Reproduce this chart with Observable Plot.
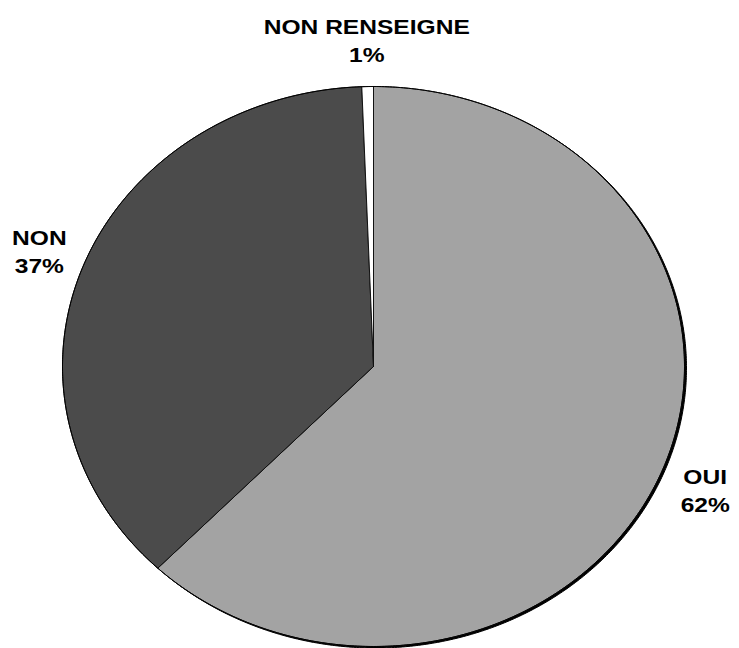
<!DOCTYPE html>
<html>
<head>
<meta charset="utf-8">
<script src="https://cdn.jsdelivr.net/npm/d3@7"></script>
<script src="https://cdn.jsdelivr.net/npm/@observablehq/plot@0.6"></script>
<style>
  html, body { margin: 0; padding: 0; background: #fff; }
  #chart svg { display: block; }
</style>
</head>
<body>
<div id="chart"></div>
<script>
const categories = ["OUI", "NON", "NON RENSEIGNE"];
const values = [62.2, 37.2, 0.6];
const percentLabels = ["62%", "37%", "1%"];

const palette = ["#a3a3a3", "#4b4b4b", "#ffffff"];

const arcs = d3.pie().sort(null).value(d => d)(values);

// slice polygons built from the pie angles
const slicePts = [];
arcs.forEach((a, i) => {
  const key = categories[i];
  slicePts.push({key, x: 0, y: 0});
  const n = Math.max(2, Math.ceil((a.endAngle - a.startAngle) / (Math.PI / 360)));
  for (let j = 0; j <= n; j++) {
    const t = a.startAngle + (a.endAngle - a.startAngle) * j / n;
    slicePts.push({key, x: Math.sin(t), y: Math.cos(t)});
  }
  slicePts.push({key, x: 0, y: 0});
});

const rim = d3.range(0, 721).map(j => {
  const t = j / 720 * 2 * Math.PI;
  return {x: Math.sin(t), y: Math.cos(t)};
});

const kx = 1.15, ky = 1.17;
const labelData = arcs.map((a, i) => {
  const m = (a.startAngle + a.endAngle) / 2;
  return {x: kx * Math.sin(m), y: ky * Math.cos(m), text: categories[i] + "\n" + percentLabels[i]};
});

const plot = Plot.plot({
  width: 739,
  height: 648,
  margin: 0,
  x: {domain: [-1, 1], range: [62, 684], axis: null},
  y: {domain: [-1, 1], range: [646, 86], axis: null},
  color: {domain: categories, range: palette},
  style: {background: "#fff", overflow: "visible"},
  marks: [
    Plot.line(rim, {x: "x", y: "y", fill: "#000", stroke: "#000", strokeWidth: 1, dx: 2, dy: 1.5}),
    Plot.line(slicePts, {x: "x", y: "y", z: "key", fill: "key", stroke: "#111", strokeWidth: 1, strokeLinejoin: "round"}),
    Plot.line(rim, {x: "x", y: "y", stroke: "#000", strokeWidth: 1}),
    Plot.text(labelData, {x: "x", y: "y", text: "text", fontSize: 21, fontWeight: "bold",
      fontFamily: "Liberation Sans, Arial, sans-serif", lineHeight: 1.35, textAnchor: "middle", fill: "#000"})
  ]
});

d3.select(plot).selectAll("g[aria-label='text'] text").each(function() {
  const tr = this.getAttribute("transform") || "";
  this.setAttribute("transform", tr + " scale(1.17,1)");
});

document.getElementById("chart").appendChild(plot);
</script>
</body>
</html>
